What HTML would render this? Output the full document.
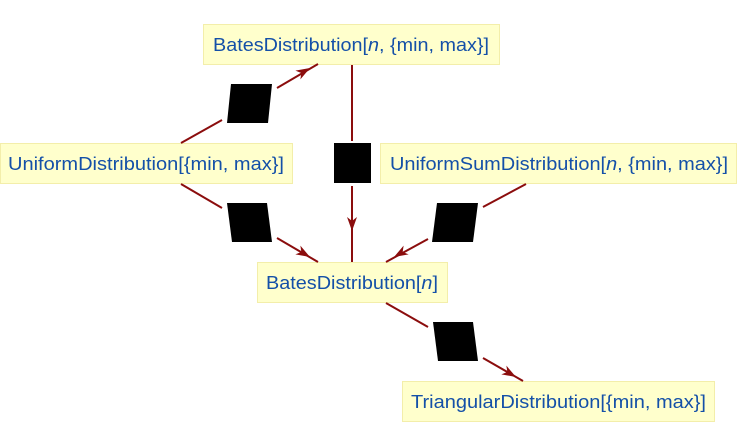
<!DOCTYPE html>
<html><head><meta charset="utf-8"><style>
html,body{margin:0;padding:0;background:#fff;}
svg{display:block;}
text{font-family:"Liberation Sans",sans-serif;font-size:18px;fill:#1450a8;}
</style></head><body>
<svg width="738" height="448" viewBox="0 0 738 448">
<g fill="#ffffcc" stroke="#f3eeaa" stroke-width="1">
<rect x="203.5" y="24.5" width="296" height="40"/>
<rect x="0.5" y="143.5" width="292" height="40"/>
<rect x="380.5" y="143.5" width="356" height="40"/>
<rect x="257.5" y="262.5" width="190" height="40"/>
<rect x="402.5" y="381.5" width="312" height="40"/>
</g>
<text x="213" y="51" textLength="276" lengthAdjust="spacingAndGlyphs">BatesDistribution[<tspan font-style="italic">n</tspan>, {min, max}]</text>
<text x="8" y="170" textLength="276" lengthAdjust="spacingAndGlyphs">UniformDistribution[{min, max}]</text>
<text x="390" y="170" textLength="338" lengthAdjust="spacingAndGlyphs">UniformSumDistribution[<tspan font-style="italic">n</tspan>, {min, max}]</text>
<text x="266" y="289" textLength="172" lengthAdjust="spacingAndGlyphs">BatesDistribution[<tspan font-style="italic">n</tspan>]</text>
<text x="411" y="408" textLength="295" lengthAdjust="spacingAndGlyphs">TriangularDistribution[{min, max}]</text>
<g stroke="#8b0d0d" stroke-width="2" fill="none">
<line x1="181" y1="143" x2="222" y2="120"/>
<line x1="277" y1="88" x2="318" y2="64"/>
<line x1="181" y1="184" x2="222" y2="208"/>
<line x1="277" y1="238" x2="318" y2="262"/>
<line x1="526" y1="184" x2="483" y2="207"/>
<line x1="428" y1="239" x2="386" y2="262"/>
<line x1="386" y1="303" x2="428" y2="327"/>
<line x1="483" y1="358" x2="523" y2="381"/>
<line x1="352" y1="65" x2="352" y2="141"/>
<line x1="352" y1="186" x2="352" y2="262"/>
</g>
<g fill="#8b0d0d">
<polygon points="0,0 -14,-5 -10,0 -14,5" transform="translate(310,68) rotate(-30)"/>
<polygon points="0,0 -14,-5 -10,0 -14,5" transform="translate(310,257) rotate(30)"/>
<polygon points="0,0 -14,-5 -10,0 -14,5" transform="translate(394,257) rotate(150)"/>
<polygon points="0,0 -14,-5 -10,0 -14,5" transform="translate(516,377) rotate(30)"/>
<polygon points="0,0 -14,-5 -10,0 -14,5" transform="translate(352,231) rotate(90)"/>
</g>
<g fill="#000">
<polygon points="231,84 272,84 268,123 227,123"/>
<polygon points="227,203 267,203 272,242 232,242"/>
<polygon points="437,203 478,203 473,242 432,242"/>
<polygon points="433,322 473,322 478,361 438,361"/>
<rect x="334" y="143" width="37" height="40"/>
</g>
</svg>
</body></html>
